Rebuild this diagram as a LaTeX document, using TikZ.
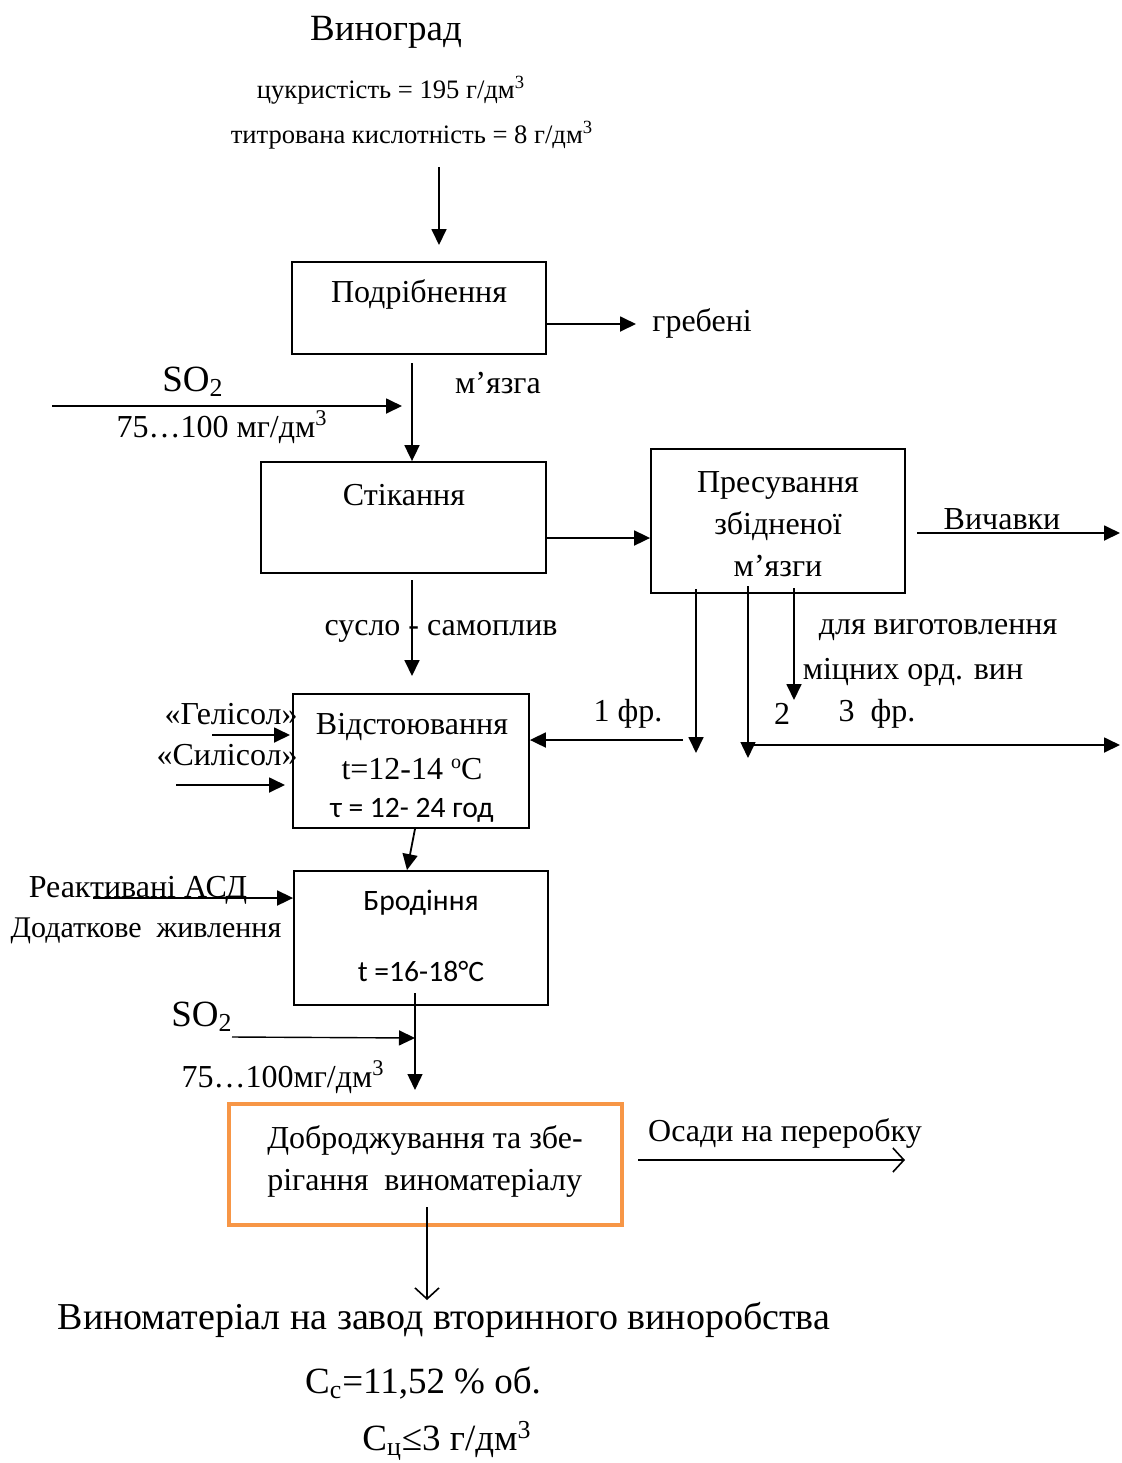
\documentclass[tikz,border=0pt]{standalone}
\usepackage{fontspec}
\setmainfont{Liberation Serif}
\newfontfamily\sansf{Carlito}
\usetikzlibrary{arrows.meta}
\definecolor{orangec}{RGB}{247,150,70}
\begin{document}
\begin{tikzpicture}[x=0.5pt,y=-0.5pt,
  box/.style={draw, line width=0.9pt, inner sep=0pt},
  lbl/.style={inner sep=0pt, font=\fontsize{16}{19}\selectfont},
  big/.style={inner sep=0pt, font=\fontsize{18.5}{21}\selectfont},
  small/.style={inner sep=0pt, font=\fontsize{13.3}{15}\selectfont},
  sans/.style={inner sep=0pt, font=\sansf\fontsize{14.8}{17}\selectfont},
  arr/.style={line width=0.9pt, -{Triangle[length=8pt,width=7.5pt]}},
  oarr/.style={line width=0.8pt, -{Straight Barb[length=5.5pt,width=12pt]}},
  ]
\useasboundingbox (0,0) rectangle (1122,1463);

% header
\node[big] (grape) at (386,32) {Виноград};
\node[small] (sugar) at (391,90) {цукристість = 195 г/дм\textsuperscript{3}};
\node[small] (acid) at (412,135) {титрована кислотність = 8 г/дм\textsuperscript{3}};
\coordinate (a0s) at (439,167);
\coordinate (a0e) at (439,245);
\draw[arr] (a0s) -- (a0e);

% boxes
\node[box, minimum width=127pt, minimum height=46pt] (crush) at (419,308) {};
\node[lbl] (crusht) at (419,294) {Подрібнення};
\node[box, minimum width=142.5pt, minimum height=55.5pt] (drain) at (403.5,517.5) {};
\node[lbl] (draint) at (404,495) {Стікання};
\node[box, minimum width=127pt, minimum height=72pt] (press) at (778,521) {};
\node[lbl, align=center, font=\fontsize{16}{21}\selectfont] (presst) at (778,524) {Пресування\\збідненої\\м’язги};
\node[box, minimum width=118pt, minimum height=67pt] (settle) at (411,761) {};
\node[lbl] (settle1) at (412,727) {Відстоювання};
\node[lbl] (settle2) at (412,769) {t=12-14 \raisebox{0.75ex}{\fontsize{10}{11}\selectfont o}C};
\node[sans] (settle3) at (412,810) {τ = 12- 24 год};
\node[box, minimum width=127pt, minimum height=67pt] (ferm) at (421,938) {};
\node[sans] (ferm1) at (421,903) {Бродіння};
\node[sans] (ferm2) at (421,971) {t =16-18°C};
\node[box, draw=orangec, line width=2pt, minimum width=196.5pt, minimum height=60.5pt] (store) at (425.5,1164.5) {};
\node[lbl, align=left, font=\fontsize{16}{21}\selectfont] (storet) at (425,1161) {Доброджування та збе-\\рігання\ \ виноматеріалу};

% crush outputs
\node[lbl, anchor=west] (combs) at (652,323) {гребені};
\coordinate (c1) at (636,324);
\draw[arr] (crush.east |- c1) -- (c1);
\coordinate (m1) at (412,363);
\draw[arr] (m1) -- (m1 |- drain.north);
\node[lbl] (mz) at (498,383) {м’язга};
\node[big] (so2a) at (193,382) {SO\textsubscript{2}};
\node[lbl] (dose1) at (222,427) {75…100 мг/дм\textsuperscript{3}};
\coordinate (s1) at (52,406);
\coordinate (s1e) at (402,406);
\draw[arr] (s1) -- (s1e);

% drain -> press
\coordinate (d1) at (546,538);
\draw[arr] (d1) -- (press.west |- d1);
\node[lbl] (pom) at (1002,519) {Вичавки};
\coordinate (v1) at (917,533);
\coordinate (v2) at (1120,533);
\draw[arr] (v1) -- (v2);

% press fractions
\coordinate (p1s) at (696,589);
\coordinate (p1e) at (696,753);
\coordinate (p2s) at (748,586);
\coordinate (p2e) at (748,758);
\coordinate (p3s) at (794,588);
\coordinate (p3e) at (794,700);
\draw[arr] (p1s) -- (p1e);
\draw[arr, line width=0.7pt] (p2s) -- (p2e);
\draw[arr] (p3s) -- (p3e);
\coordinate (f1) at (683,740);
\draw[arr] (f1) -- (settle.east |- f1);
\coordinate (f3s) at (750,745);
\coordinate (f3e) at (1120,745);
\draw[arr] (f3s) -- (f3e);
\node[lbl] (fr1) at (628,714) {1 фр.};
\node[lbl] (fr2) at (782,714) {2};
\node[lbl] (fr3) at (877,714) {3\ \ фр.};
\node[lbl] (strong1) at (938,630) {для виготовлення};
\node[lbl] (strong2) at (913,672) {міцних орд. вин};

% drain -> settle
\coordinate (d2) at (412,580);
\coordinate (d2e) at (412,676);
\draw[arr] (d2) -- (d2e);
\node[lbl] (must) at (441,631) {сусло - самоплив};

% fining agents
\node[lbl, anchor=east] (gel) at (298,714) {«Гелісол»};
\node[lbl, anchor=east] (sil) at (298,755) {«Силісол»};
\coordinate (g1) at (212,735);
\coordinate (g1e) at (290,735);
\coordinate (g2) at (176,785);
\coordinate (g2e) at (285,785);
\draw[arr] (g1) -- (g1e);
\draw[arr] (g2) -- (g2e);

% settle -> ferm
\draw[arr] ([xshift=2pt]settle.south) -- ([xshift=-7pt]ferm.north);

\node[lbl] (asd) at (138,890) {Реактивані АСД};
\node[lbl, font=\fontsize{15}{18}\selectfont] (feed) at (146,931) {Додаткове\ \ живлення};
\coordinate (r1) at (93,898);
\draw[arr] (r1) -- (ferm.west |- r1);

% SO2 bottom
\node[big] (so2b) at (202,1017) {SO\textsubscript{2}};
\node[lbl] (dose2) at (283,1077) {75…100мг/дм\textsuperscript{3}};
\coordinate (b1) at (232,1037);
\coordinate (b1e) at (415,1038);
\draw[arr, line width=0.7pt] (b1) -- (b1e);
\coordinate (fs) at (415,993);
\coordinate (fe) at (415,1090);
\draw[arr, line width=0.7pt] (fs) -- (fe);

% store outputs
\node[lbl] (lees) at (785,1133) {Осади на переробку};
\coordinate (o1) at (638,1160);
\coordinate (o2) at (905,1160);
\draw[oarr] (o1) -- (o2);
\coordinate (st1) at (427,1207);
\coordinate (st2) at (427,1300);
\draw[oarr] (st1) -- (st2);

% final
\node[big, font=\fontsize{19}{22}\selectfont] (fin) at (444,1320) {Виноматеріал на завод вторинного виноробства};
\node[big] (fin2) at (423,1383) {C\textsubscript{с}=11,52 \% об.};
\node[big] (fin3) at (447,1441) {C\textsubscript{ц}≤3 г/дм\textsuperscript{3}};
\end{tikzpicture}
\end{document}
